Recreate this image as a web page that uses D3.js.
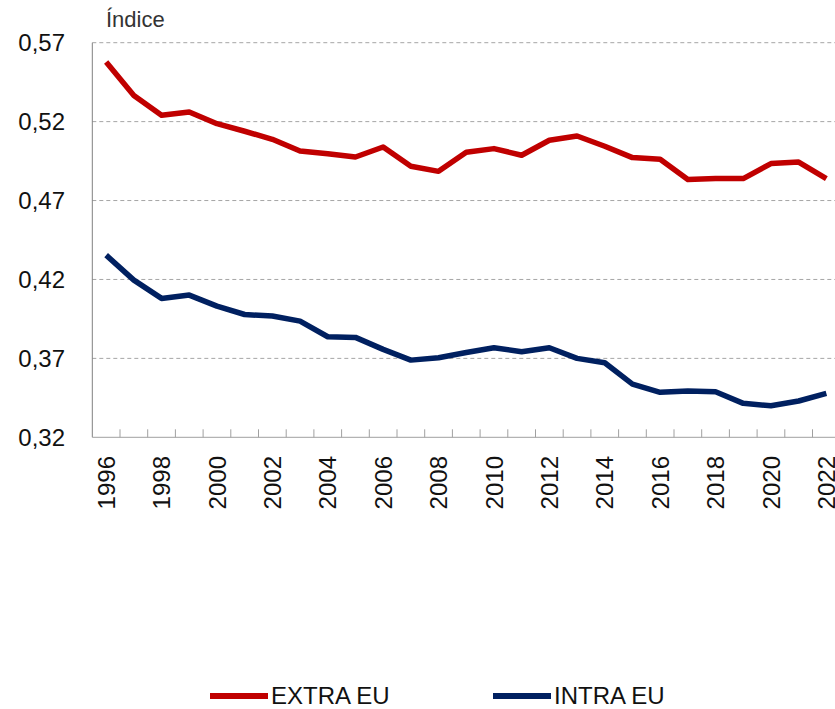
<!DOCTYPE html>
<html lang="es">
<head>
    <meta charset="UTF-8">
    <title>Índice EXTRA EU / INTRA EU</title>
    <script src="https://d3js.org/d3.v7.min.js"></script>
    <style>
        body { margin: 0; background: #fff; }
        text { font-family: "Liberation Sans", Arial, Helvetica, sans-serif; fill: #111; }
        .grid line { stroke: #a6a6a6; stroke-width: 1px; stroke-dasharray: 4,3; }
        .line { fill: none; stroke-width: 5.5px; stroke-linejoin: round; }
    </style>
</head>
<body>
<div id="chart"></div>
<script>
    // data
    var years = d3.range(1996, 2023);
    var extraEU = [0.5577, 0.5366, 0.5240, 0.5261, 0.5187, 0.5139, 0.5088, 0.5014, 0.4997, 0.4976,
                   0.5039, 0.4917, 0.4885, 0.5006, 0.5029, 0.4987, 0.5082, 0.5109, 0.5044, 0.4972,
                   0.4961, 0.4833, 0.4839, 0.4839, 0.4934, 0.4944, 0.4839];
    var intraEU = [0.4354, 0.4196, 0.4080, 0.4101, 0.4031, 0.3978, 0.3968, 0.3936, 0.3837, 0.3833,
                   0.3757, 0.3689, 0.3704, 0.3737, 0.3767, 0.3742, 0.3767, 0.3700, 0.3672, 0.3537,
                   0.3485, 0.3493, 0.3489, 0.3415, 0.3400, 0.3430, 0.3478];
    var yTicks = [0.32, 0.37, 0.42, 0.47, 0.52, 0.57];
    var xLabels = d3.range(1996, 2023, 2);
    var seriesNames = ["EXTRA EU", "INTRA EU"];
    var colors = ["#c00000", "#002060"];

    var W = 835, H = 709;
    var plotLeft = 92.3, plotTop = 42.7, plotBottom = 437.3;

    var svg = d3.select("#chart").append("svg")
        .attr("width", W)
        .attr("height", H);

    var x = d3.scaleBand().domain(years).range([plotLeft, plotLeft + 27 * 27.7]);
    var y = d3.scaleLinear().domain([0.32, 0.57]).range([plotBottom, plotTop]);
    var fmt = function(d) { return d3.format(".2f")(d).replace(".", ","); };

    // gridlines
    svg.append("g").attr("class", "grid")
        .selectAll("line")
        .data(yTicks.slice(1))
        .enter().append("line")
        .attr("x1", plotLeft).attr("x2", W)
        .attr("y1", function(d) { return y(d); })
        .attr("y2", function(d) { return y(d); });

    // y axis
    svg.append("line")
        .attr("x1", plotLeft).attr("x2", plotLeft)
        .attr("y1", plotTop).attr("y2", plotBottom)
        .attr("stroke", "#808080");
    svg.append("g").selectAll("text")
        .data(yTicks)
        .enter().append("text")
        .attr("x", 65)
        .attr("y", function(d) { return y(d); })
        .attr("dy", "0.36em")
        .attr("text-anchor", "end")
        .style("font-size", "24px")
        .text(fmt);

    // x axis
    svg.append("line")
        .attr("x1", plotLeft).attr("x2", W)
        .attr("y1", plotBottom).attr("y2", plotBottom)
        .attr("stroke", "#a0a0a0");
    svg.append("g").selectAll("line")
        .data(years.slice(1))
        .enter().append("line")
        .attr("x1", function(d) { return x(d); })
        .attr("x2", function(d) { return x(d); })
        .attr("y1", plotBottom).attr("y2", plotBottom - 8)
        .attr("stroke", "#a0a0a0");
    svg.append("g").selectAll("text")
        .data(xLabels)
        .enter().append("text")
        .attr("transform", function(d) {
            return "translate(" + (x(d) + x.bandwidth() / 2) + "," + 456 + ") rotate(-90)";
        })
        .attr("dy", "0.36em")
        .attr("text-anchor", "end")
        .style("font-size", "24px")
        .text(function(d) { return d; });

    svg.append("text")
        .attr("x", 106)
        .attr("y", 27)
        .style("font-size", "22px")
        .style("fill", "#333")
        .text("Índice");

    // lines
    var line = d3.line()
        .x(function(d, i) { return x(years[i]) + x.bandwidth() / 2; })
        .y(function(d) { return y(d); });

    [extraEU, intraEU].forEach(function(s, i) {
        svg.append("path")
            .datum(s)
            .attr("class", "line")
            .attr("stroke", colors[i])
            .attr("d", line);
    });

    // legend
    var legendX = [210, 493];
    seriesNames.forEach(function(name, i) {
        svg.append("line")
            .attr("x1", legendX[i]).attr("x2", legendX[i] + 58)
            .attr("y1", 696).attr("y2", 696)
            .attr("stroke", colors[i])
            .attr("stroke-width", 6);
        svg.append("text")
            .attr("x", legendX[i] + 61)
            .attr("y", 704)
            .style("font-size", "24px")
            .text(name);
    });
</script>
</body>
</html>
